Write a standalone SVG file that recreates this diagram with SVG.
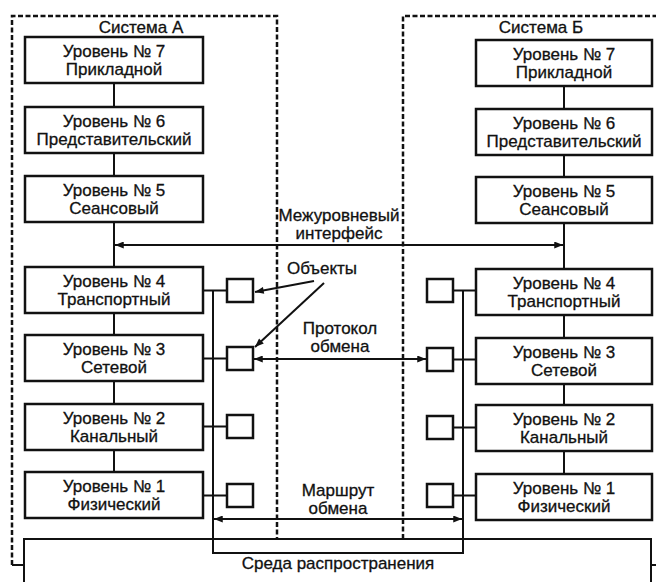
<svg xmlns="http://www.w3.org/2000/svg" width="656" height="582" viewBox="0 0 656 582">
<defs>
<style>
.box{fill:#fff;stroke:#111;stroke-width:2.5}
.sq{fill:#fff;stroke:#111;stroke-width:2.5}
.ln{fill:none;stroke:#111;stroke-width:2}
.dash{fill:none;stroke:#111;stroke-width:2.5;stroke-dasharray:5 2.5}
.t{font-family:"Liberation Sans",Arial,sans-serif;font-size:17px;fill:#111;stroke:#111;stroke-width:0.3;text-anchor:middle}
.arr{fill:none;stroke:#111;stroke-width:2;marker-end:url(#ah)}
.arr2{fill:none;stroke:#111;stroke-width:2;marker-end:url(#ah);marker-start:url(#ah)}
</style>
<marker id="ah" viewBox="0 0 10 8" refX="10" refY="4" markerWidth="10" markerHeight="7" markerUnits="userSpaceOnUse" orient="auto-start-reverse">
<path d="M0,0 L10,4 L0,8 Z" fill="#111"/>
</marker>
</defs>
<rect width="656" height="582" fill="#fff"/>

<g id="system-a-frame">
<path class="dash" d="M12,565 V16 H277 V539"/>
<path class="ln" d="M12,565 H24"/>
<text class="t" x="141" y="33">Система А</text>
</g>
<g id="system-b-frame">
<path class="dash" d="M403,539 V16 H656"/>
<path class="ln" d="M651,565 H656"/>
<text class="t" x="541" y="33">Система Б</text>
</g>

<g id="medium">
<path class="ln" d="M24,582 V539 H651 V582"/>
<text class="t" x="338" y="569">Среда распространения</text>
</g>

<g id="connectors">
<path class="ln" d="M114,83 V107 M114,153 V176 M114,222 V267 M114,313 V335 M114,381 V404 M114,450 V472"/>
<path class="ln" d="M564,86 V109 M564,155 V177 M564,223 V269 M564,315 V338 M564,384 V405 M564,451 V474"/>
<path class="ln" d="M203,290.5 H227 M203,358.5 H227 M203,426.5 H227 M203,495.5 H227"/>
<path class="ln" d="M453,290.5 H476 M453,359.5 H476 M453,427.5 H476 M453,495.5 H476"/>
<path class="ln" d="M213,290.5 V553 H463 V290.5"/>
<path class="arr2" d="M115,245 H563"/>
<path class="arr2" d="M254,359 H426"/>
<path class="arr2" d="M214,519 H462"/>
<path class="arr" d="M314,281 L255,292"/>
<path class="arr" d="M324,283 L255,347"/>
</g>

<g id="labels">
<text class="t" x="339" y="221">Межуровневый</text>
<text class="t" x="339" y="239">интерфейс</text>
<text class="t" x="322" y="274">Объекты</text>
<text class="t" x="340" y="334">Протокол</text>
<text class="t" x="340" y="352">обмена</text>
<text class="t" x="338" y="496">Маршрут</text>
<text class="t" x="338" y="514">обмена</text>
</g>

<g id="a7"><rect class="box" x="25" y="37" width="178" height="46"/><text class="t" x="114" y="57">Уровень № 7</text><text class="t" x="114" y="75">Прикладной</text></g>
<g id="a6"><rect class="box" x="25" y="107" width="178" height="46"/><text class="t" x="114" y="127">Уровень № 6</text><text class="t" x="114" y="145">Представительский</text></g>
<g id="a5"><rect class="box" x="25" y="176" width="178" height="46"/><text class="t" x="114" y="196">Уровень № 5</text><text class="t" x="114" y="214">Сеансовый</text></g>
<g id="a4"><rect class="box" x="25" y="267" width="178" height="46"/><text class="t" x="114" y="287">Уровень № 4</text><text class="t" x="114" y="305">Транспортный</text></g>
<g id="a3"><rect class="box" x="25" y="335" width="178" height="46"/><text class="t" x="114" y="355">Уровень № 3</text><text class="t" x="114" y="373">Сетевой</text></g>
<g id="a2"><rect class="box" x="25" y="404" width="178" height="46"/><text class="t" x="114" y="424">Уровень № 2</text><text class="t" x="114" y="442">Канальный</text></g>
<g id="a1"><rect class="box" x="25" y="472" width="178" height="46"/><text class="t" x="114" y="492">Уровень № 1</text><text class="t" x="114" y="510">Физический</text></g>

<g id="b7"><rect class="box" x="476" y="40" width="176" height="46"/><text class="t" x="564" y="60">Уровень № 7</text><text class="t" x="564" y="78">Прикладной</text></g>
<g id="b6"><rect class="box" x="476" y="109" width="176" height="46"/><text class="t" x="564" y="129">Уровень № 6</text><text class="t" x="564" y="147">Представительский</text></g>
<g id="b5"><rect class="box" x="476" y="177" width="176" height="46"/><text class="t" x="564" y="197">Уровень № 5</text><text class="t" x="564" y="215">Сеансовый</text></g>
<g id="b4"><rect class="box" x="476" y="269" width="176" height="46"/><text class="t" x="564" y="289">Уровень № 4</text><text class="t" x="564" y="307">Транспортный</text></g>
<g id="b3"><rect class="box" x="476" y="338" width="176" height="46"/><text class="t" x="564" y="358">Уровень № 3</text><text class="t" x="564" y="376">Сетевой</text></g>
<g id="b2"><rect class="box" x="476" y="405" width="176" height="46"/><text class="t" x="564" y="425">Уровень № 2</text><text class="t" x="564" y="443">Канальный</text></g>
<g id="b1"><rect class="box" x="476" y="474" width="176" height="46"/><text class="t" x="564" y="494">Уровень № 1</text><text class="t" x="564" y="512">Физический</text></g>

<g id="obj-a4"><rect class="sq" x="227" y="279" width="26" height="23"/></g>
<g id="obj-a3"><rect class="sq" x="227" y="347" width="26" height="23"/></g>
<g id="obj-a2"><rect class="sq" x="227" y="415" width="26" height="23"/></g>
<g id="obj-a1"><rect class="sq" x="227" y="484" width="26" height="23"/></g>
<g id="obj-b4"><rect class="sq" x="427" y="279" width="26" height="23"/></g>
<g id="obj-b3"><rect class="sq" x="427" y="348" width="26" height="23"/></g>
<g id="obj-b2"><rect class="sq" x="427" y="416" width="26" height="23"/></g>
<g id="obj-b1"><rect class="sq" x="427" y="484" width="26" height="23"/></g>
</svg>
